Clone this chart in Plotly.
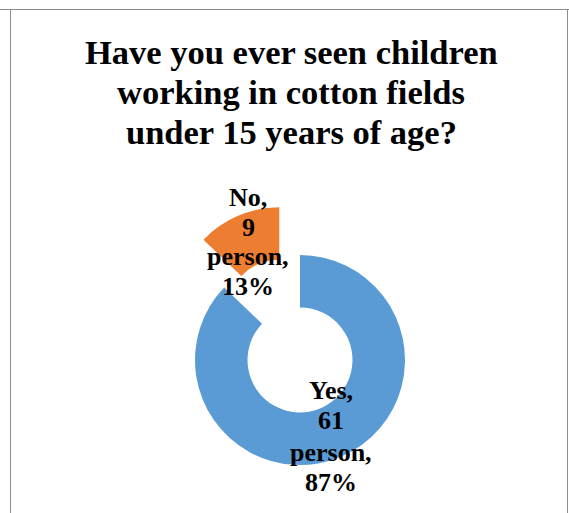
import plotly.graph_objects as go

# Survey answers
answers = ["Yes", "No"]
counts = [61, 9]
colors = ["#5B9BD5", "#ED7D31"]
title_lines = ["Have you ever seen children", "working in cotton fields", "under 15 years of age?"]

W, H = 569, 513
TRANSPARENT = "rgba(0,0,0,0)"
SERIF = "Liberation Serif, Times New Roman, serif"


def px(x):
    return x / W


def py(y):
    return (H - y) / H


total = sum(counts)
percents = [round(c * 100 / total) for c in counts]

R = 105  # outer radius in pixels
HOLE = 0.5


def pie_domain(cx, cy):
    return dict(x=[px(cx - R), px(cx + R)], y=[py(cy + R), py(cy - R)])


fig = go.Figure()

# main ring (Yes) and the exploded wedge (No) drawn as two aligned pies
centers = [(300, 360), (279.3, 312.3)]
for i, (cx, cy) in enumerate(centers):
    slice_colors = [colors[j] if j == i else TRANSPARENT for j in range(len(counts))]
    fig.add_trace(go.Pie(
        labels=answers,
        values=counts,
        sort=False,
        direction="clockwise",
        rotation=0,
        hole=HOLE,
        marker=dict(colors=slice_colors, line=dict(width=0)),
        textinfo="none",
        hoverinfo="skip",
        showlegend=False,
        domain=pie_domain(cx, cy),
    ))

annotations = []

# title, one line per annotation
title_y = [52, 92, 132]
for line, y in zip(title_lines, title_y):
    annotations.append(dict(
        text=f"<b>{line}</b>", x=px(291), y=py(y), xref="paper", yref="paper",
        xanchor="center", yanchor="middle", showarrow=False,
        font=dict(family=SERIF, size=34.5, color="#000000"),
    ))

# slice labels: category, count, "person", percentage
label_pos = [(331, [390, 420, 452, 482]), (248, [197, 227, 256, 286])]
for ans, cnt, pct, (lx, ys) in zip(answers, counts, percents, label_pos):
    parts = [f"{ans},", f"{cnt}", "person,", f"{pct}%"]
    for part, y in zip(parts, ys):
        annotations.append(dict(
            text=f"<b>{part}</b>", x=px(lx), y=py(y), xref="paper", yref="paper",
            xanchor="center", yanchor="middle", showarrow=False,
            font=dict(family=SERIF, size=26, color="#000000"),
        ))

# frame lines around the chart area
frame = "#8C8C8C"
shapes = [
    dict(type="line", xref="paper", yref="paper", x0=0, x1=1, y0=py(9.5), y1=py(9.5),
         line=dict(color=frame, width=1)),
    dict(type="line", xref="paper", yref="paper", x0=px(10.5), x1=px(10.5), y0=py(9.5), y1=0,
         line=dict(color=frame, width=1)),
    dict(type="line", xref="paper", yref="paper", x0=px(567.5), x1=px(567.5), y0=py(9.5), y1=0,
         line=dict(color=frame, width=1)),
]

fig.update_layout(
    width=W, height=H,
    margin=dict(l=0, r=0, t=0, b=0),
    paper_bgcolor="#FFFFFF",
    plot_bgcolor="#FFFFFF",
    annotations=annotations,
    shapes=shapes,
)

fig.write_html("out.html")
